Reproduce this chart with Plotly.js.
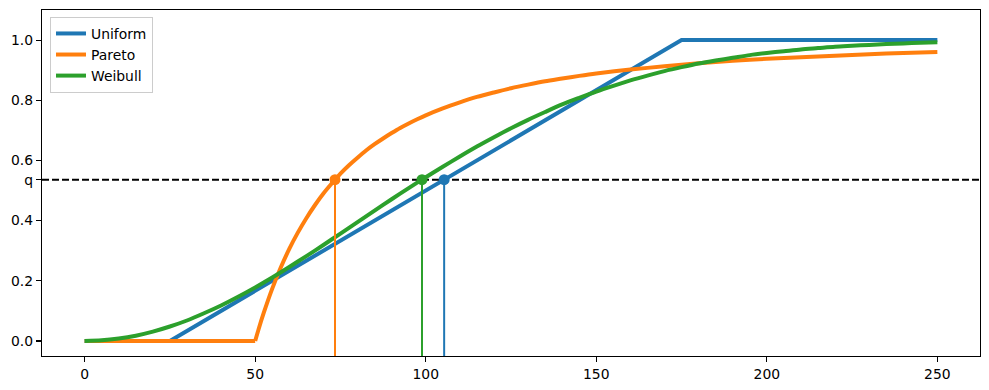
<!DOCTYPE html>
<html>
<head>
<meta charset="utf-8">
<script src="https://cdn.plot.ly/plotly-3.0.1.min.js"></script>
<style>html,body{margin:0;padding:0;background:#fff;}#chart{width:989px;height:390px;}</style>
</head>
<body>
<div id="chart"></div>
<script>
// Values
const uniformX = [0, 25, 175, 250];
const uniformY = [0, 0, 1, 1];

const paretoFlatX = [0, 50];
const paretoFlatY = [0, 0];
const paretoX = [50, 51, 52.5, 55, 57.5, 60, 62.5, 65, 67.5, 70, 72.5, 75, 77.5, 80, 82.5, 85, 87.5, 90, 92.5, 95, 97.5, 100, 105, 110, 115, 120, 125, 130, 135, 140, 145, 150, 160, 170, 180, 190, 200, 210, 220, 230, 240, 250];
const paretoY = [0, 0.039, 0.093, 0.174, 0.244, 0.306, 0.360, 0.408, 0.451, 0.490, 0.524, 0.556, 0.584, 0.609, 0.633, 0.654, 0.673, 0.691, 0.708, 0.723, 0.737, 0.750, 0.773, 0.793, 0.811, 0.826, 0.840, 0.852, 0.863, 0.872, 0.881, 0.889, 0.902, 0.913, 0.923, 0.931, 0.938, 0.943, 0.948, 0.953, 0.957, 0.960];

const weibullX = [0, 5, 10, 15, 20, 25, 30, 35, 40, 45, 50, 55, 60, 65, 70, 75, 80, 85, 90, 95, 100, 105, 110, 115, 120, 125, 130, 135, 140, 145, 150, 155, 160, 165, 170, 175, 180, 185, 190, 195, 200, 205, 210, 215, 220, 225, 230, 235, 240, 245, 250];
const weibullY = [0, 0.002, 0.008, 0.0175, 0.031, 0.048, 0.068, 0.092, 0.118, 0.147, 0.178, 0.211, 0.246, 0.282, 0.319, 0.357, 0.395, 0.433, 0.471, 0.508, 0.544, 0.579, 0.613, 0.646, 0.677, 0.707, 0.735, 0.761, 0.786, 0.808, 0.829, 0.848, 0.866, 0.882, 0.897, 0.910, 0.922, 0.932, 0.941, 0.950, 0.957, 0.963, 0.969, 0.9735, 0.978, 0.981, 0.984, 0.987, 0.989, 0.991, 0.993];

const seriesNames = ["Uniform", "Pareto", "Weibull"];
const seriesColors = ["#1f77b4", "#ff7f0e", "#2ca02c"];
const q = 0.536;
const quantileX = [105.4, 73.4, 98.9];   // Uniform, Pareto, Weibull

const xTicks = [0, 50, 100, 150, 200, 250];
const yTickVals = [0, 0.2, 0.4, q, 0.6, 0.8, 1.0];
const yTickText = ["0.0", "0.2", "0.4", "q", "0.6", "0.8", "1.0"];

const xRange = [-12.5, 262.5];
const yRange = [-0.05, 1.1];

const traces = [];
traces.push({
  x: uniformX, y: uniformY, type: "scatter", mode: "lines", name: seriesNames[0],
  legendgroup: "u", line: {color: seriesColors[0], width: 4}, hoverinfo: "skip"
});
traces.push({
  x: paretoFlatX, y: paretoFlatY, type: "scatter", mode: "lines", name: seriesNames[1],
  legendgroup: "p", line: {color: seriesColors[1], width: 4}, hoverinfo: "skip"
});
traces.push({
  x: paretoX, y: paretoY, type: "scatter", mode: "lines", name: seriesNames[1], showlegend: false,
  legendgroup: "p", line: {color: seriesColors[1], width: 4, shape: "spline", smoothing: 0.8}, hoverinfo: "skip"
});
traces.push({
  x: weibullX, y: weibullY, type: "scatter", mode: "lines", name: seriesNames[2],
  legendgroup: "w", line: {color: seriesColors[2], width: 4, shape: "spline", smoothing: 0.8}, hoverinfo: "skip"
});
// horizontal dashed line at q
traces.push({
  x: xRange, y: [q, q], type: "scatter", mode: "lines", showlegend: false,
  line: {color: "black", width: 2, dash: "7px,3px"}, hoverinfo: "skip"
});
// vertical lines and points
quantileX.forEach((xv, i) => {
  traces.push({
    x: [xv, xv], y: [yRange[0], q], type: "scatter", mode: "lines", showlegend: false,
    line: {color: seriesColors[i], width: 2}, hoverinfo: "skip"
  });
});
quantileX.forEach((xv, i) => {
  traces.push({
    x: [xv], y: [q], type: "scatter", mode: "markers", showlegend: false,
    marker: {color: seriesColors[i], size: 11}, hoverinfo: "skip"
  });
});

const font = {family: "DejaVu Sans", size: 13.9, color: "black"};
const layout = {
  width: 989, height: 390,
  margin: {l: 42, r: 8.5, t: 10, b: 34, pad: 0},
  paper_bgcolor: "white", plot_bgcolor: "white",
  font: font,
  showlegend: true,
  legend: {
    x: 0.0085, y: 0.98, xanchor: "left", yanchor: "top",
    bgcolor: "rgba(255,255,255,0.8)", bordercolor: "#cccccc", borderwidth: 1,
    font: font, tracegroupgap: 0
  },
  xaxis: {
    range: xRange, tickvals: xTicks, ticktext: xTicks.map(String),
    showgrid: false, zeroline: false, showline: true, mirror: true,
    linecolor: "black", linewidth: 1.1, ticks: "outside", ticklen: 5, tickwidth: 1.1, tickcolor: "black",
    tickfont: font
  },
  yaxis: {
    range: yRange, tickvals: yTickVals, ticktext: yTickText,
    showgrid: false, zeroline: false, showline: true, mirror: true,
    linecolor: "black", linewidth: 1.1, ticks: "outside", ticklen: 5, tickwidth: 1.1, tickcolor: "black",
    tickfont: font
  },
  hovermode: false
};
Plotly.newPlot("chart", traces, layout, {displayModeBar: false, staticPlot: true});
</script>
</body>
</html>
